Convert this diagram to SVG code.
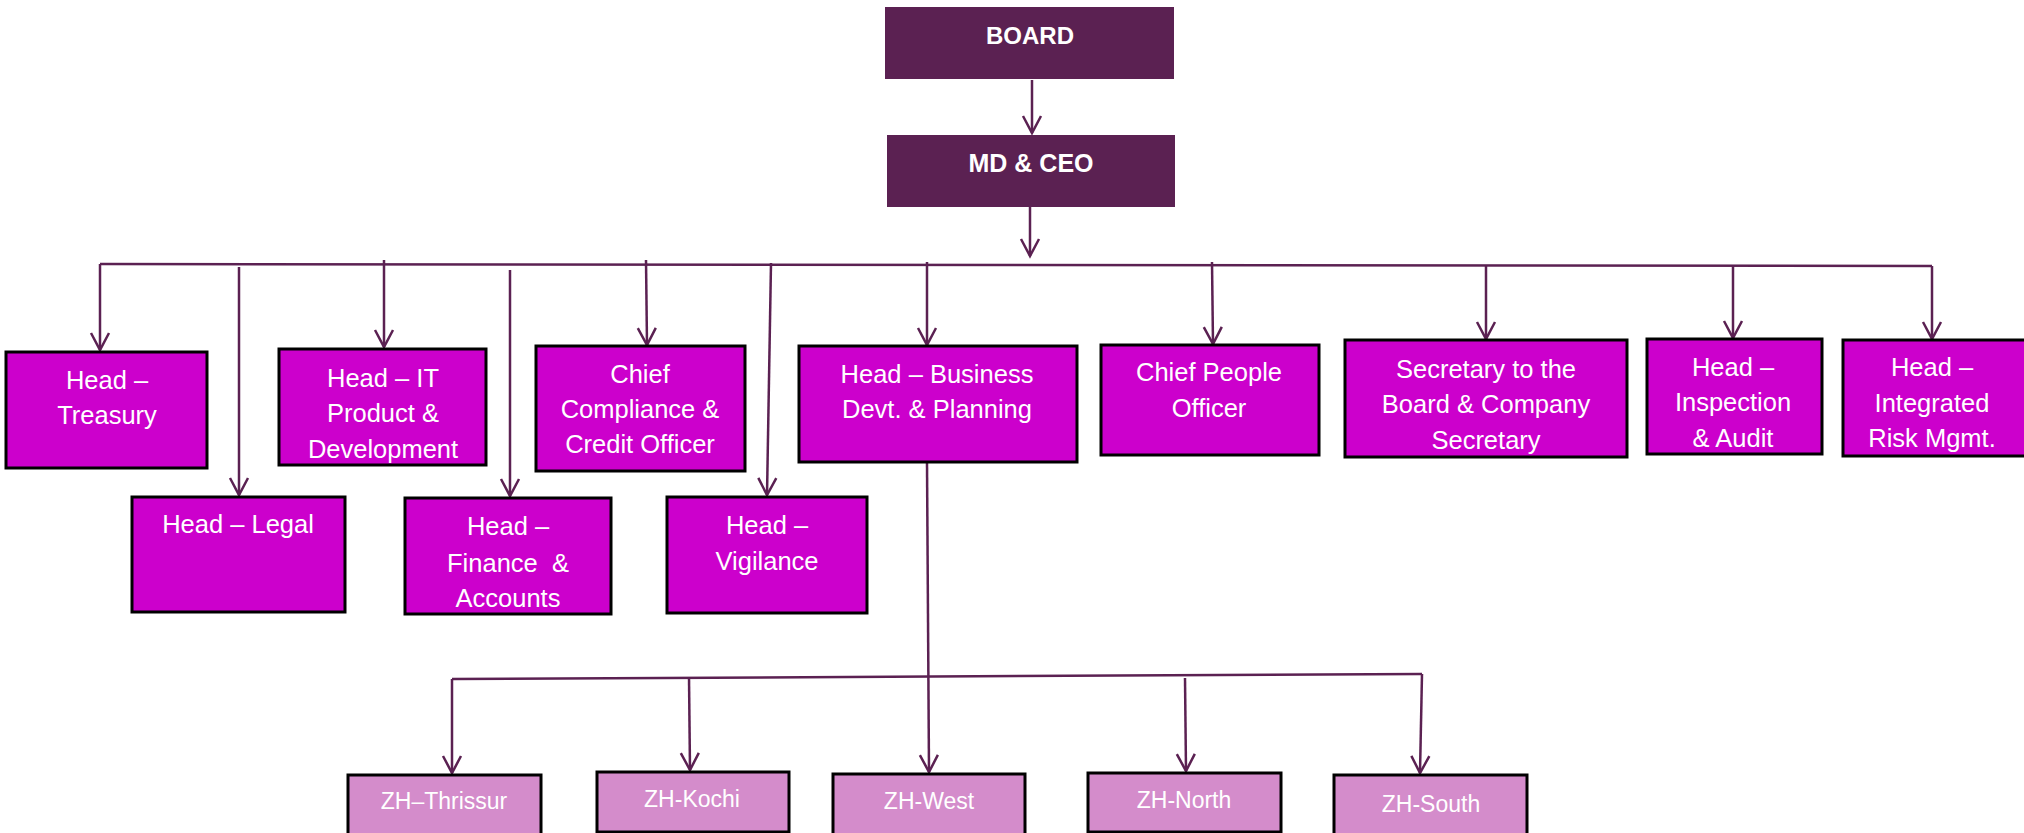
<svg xmlns="http://www.w3.org/2000/svg" width="2024" height="833" viewBox="0 0 2024 833">
<style>
.top{fill:#5B2152;}
.hd{fill:#CC00CC;stroke:#000;stroke-width:3;}
.zh{fill:#D48CCB;stroke:#000;stroke-width:3;}
.tb{font-family:"Liberation Sans",Arial,sans-serif;font-weight:bold;font-size:24px;fill:#fff;text-anchor:middle;}
.t{font-family:"Liberation Sans",Arial,sans-serif;font-size:25.5px;fill:#fff;text-anchor:middle;}
.tz{font-family:"Liberation Sans",Arial,sans-serif;font-size:23px;fill:#fff;text-anchor:middle;}
.c{fill:none;stroke:#5B2152;stroke-width:2.5;}
</style>
<defs>
<marker id="ar" markerUnits="userSpaceOnUse" viewBox="-20 -12 24 24" markerWidth="24" markerHeight="24" refX="0" refY="0" orient="auto" overflow="visible">
<path d="M-17,-9 L0,0 L-17,9" fill="none" stroke="#5B2152" stroke-width="2.5"/>
</marker>
</defs>
<rect width="2024" height="833" fill="#fff"/>
<g id="connectors">
<path class="c" d="M1032,80 L1032,133" marker-end="url(#ar)"/>
<path class="c" d="M1030,207 L1030,256" marker-end="url(#ar)"/>
<path class="c" d="M100,264 L1932,266"/>
<path class="c" d="M100,264 L100,350" marker-end="url(#ar)"/>
<path class="c" d="M239,267 L239,495" marker-end="url(#ar)"/>
<path class="c" d="M384,260 L384,347" marker-end="url(#ar)"/>
<path class="c" d="M510,270 L510,496" marker-end="url(#ar)"/>
<path class="c" d="M646,260 L647,345" marker-end="url(#ar)"/>
<path class="c" d="M771,263 L767,495" marker-end="url(#ar)"/>
<path class="c" d="M927,262 L927,345" marker-end="url(#ar)"/>
<path class="c" d="M1212,262 L1213,344" marker-end="url(#ar)"/>
<path class="c" d="M1486,265 L1486,339" marker-end="url(#ar)"/>
<path class="c" d="M1733,265 L1733,338" marker-end="url(#ar)"/>
<path class="c" d="M1932,266 L1932,339" marker-end="url(#ar)"/>
<path class="c" d="M927,463 L929,772" marker-end="url(#ar)"/>
<path class="c" d="M452,679 L1422,674"/>
<path class="c" d="M452,679 L452,773" marker-end="url(#ar)"/>
<path class="c" d="M689,677 L690,770" marker-end="url(#ar)"/>
<path class="c" d="M1185,678 L1186,771" marker-end="url(#ar)"/>
<path class="c" d="M1422,674 L1420,773" marker-end="url(#ar)"/>
</g>
<g id="board"><rect class="top" x="885" y="7" width="289" height="72"/><text class="tb" x="1030" y="44">BOARD</text></g>
<g id="mdceo"><rect class="top" x="887" y="135" width="288" height="72"/><text class="tb" x="1031" y="172" style="font-size:25px">MD &amp; CEO</text></g>
<g id="treasury"><rect class="hd" x="6" y="352" width="201" height="116"/><text class="t" x="107" y="389">Head –</text><text class="t" x="107" y="424">Treasury</text></g>
<g id="legal"><rect class="hd" x="132" y="497" width="213" height="115"/><text class="t" x="238" y="533">Head – Legal</text></g>
<g id="it"><rect class="hd" x="279" y="349" width="207" height="116"/><text class="t" x="383" y="387">Head – IT</text><text class="t" x="383" y="422">Product &amp;</text><text class="t" x="383" y="458">Development</text></g>
<g id="finance"><rect class="hd" x="405" y="498" width="206" height="116"/><text class="t" x="508" y="535">Head –</text><text class="t" x="508" y="572" xml:space="preserve">Finance  &amp;</text><text class="t" x="508" y="607">Accounts</text></g>
<g id="compliance"><rect class="hd" x="536" y="346" width="209" height="125"/><text class="t" x="640" y="383">Chief</text><text class="t" x="640" y="418">Compliance &amp;</text><text class="t" x="640" y="453">Credit Officer</text></g>
<g id="vigilance"><rect class="hd" x="667" y="497" width="200" height="116"/><text class="t" x="767" y="534">Head –</text><text class="t" x="767" y="570">Vigilance</text></g>
<g id="business"><rect class="hd" x="799" y="346" width="278" height="116"/><text class="t" x="937" y="383">Head – Business</text><text class="t" x="937" y="418">Devt. &amp; Planning</text></g>
<g id="people"><rect class="hd" x="1101" y="345" width="218" height="110"/><text class="t" x="1209" y="381">Chief People</text><text class="t" x="1209" y="417">Officer</text></g>
<g id="secretary"><rect class="hd" x="1345" y="340" width="282" height="117"/><text class="t" x="1486" y="378">Secretary to the</text><text class="t" x="1486" y="413">Board &amp; Company</text><text class="t" x="1486" y="449">Secretary</text></g>
<g id="inspection"><rect class="hd" x="1647" y="339" width="175" height="115"/><text class="t" x="1733" y="376">Head –</text><text class="t" x="1733" y="411">Inspection</text><text class="t" x="1733" y="447">&amp; Audit</text></g>
<g id="risk"><rect class="hd" x="1843" y="340" width="190" height="116"/><text class="t" x="1932" y="376">Head –</text><text class="t" x="1932" y="412">Integrated</text><text class="t" x="1932" y="447">Risk Mgmt.</text></g>
<g id="thrissur"><rect class="zh" x="348" y="775" width="193" height="60"/><text class="tz" x="444" y="809">ZH–Thrissur</text></g>
<g id="kochi"><rect class="zh" x="597" y="772" width="192" height="60"/><text class="tz" x="692" y="807">ZH-Kochi</text></g>
<g id="west"><rect class="zh" x="833" y="774" width="192" height="61"/><text class="tz" x="929" y="809">ZH-West</text></g>
<g id="north"><rect class="zh" x="1088" y="773" width="193" height="59"/><text class="tz" x="1184" y="808">ZH-North</text></g>
<g id="south"><rect class="zh" x="1334" y="775" width="193" height="60"/><text class="tz" x="1431" y="812">ZH-South</text></g>
</svg>
